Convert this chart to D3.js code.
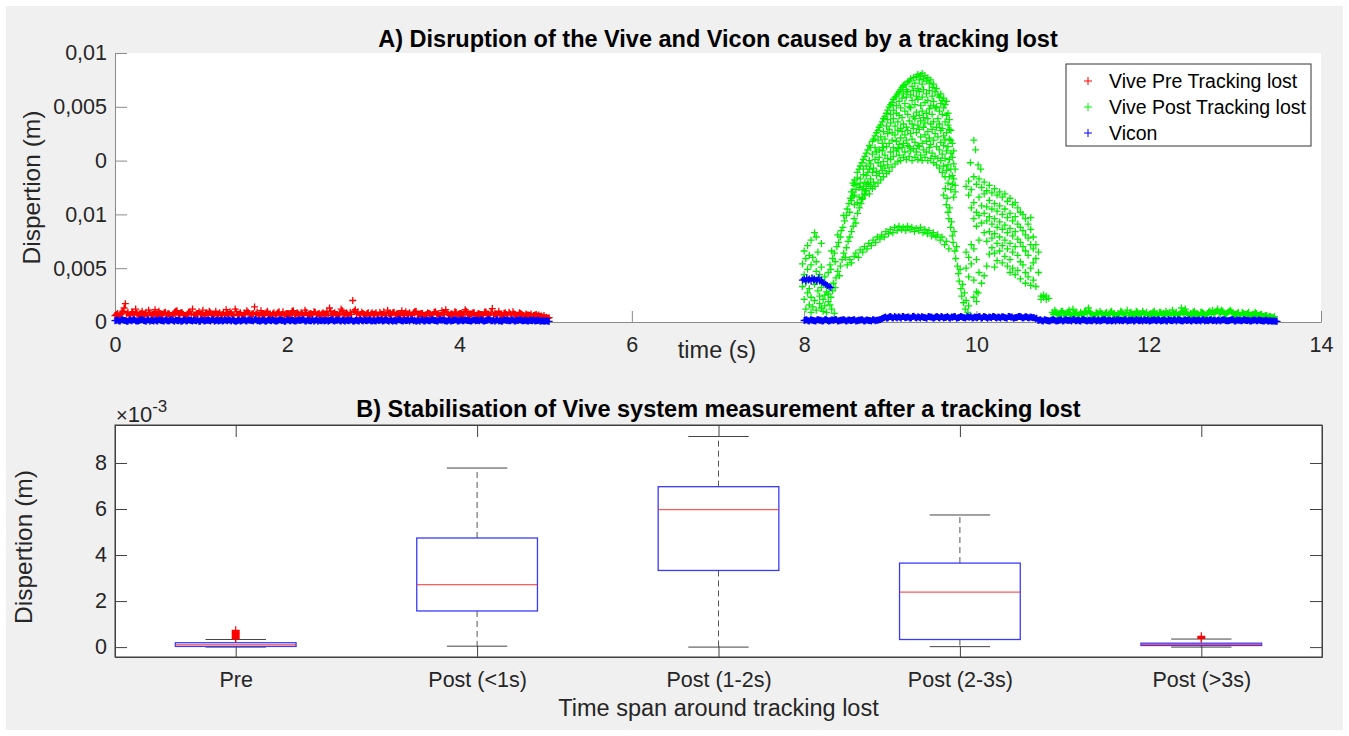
<!DOCTYPE html>
<html><head><meta charset="utf-8">
<script src="https://cdn.jsdelivr.net/npm/d3@7"></script>
<style>body{margin:0;background:#fff}svg{display:block}</style>
</head><body><svg id="c" width="1349" height="736"></svg>
<script>
// ===== DATA (dispersion values in 1e-3 m, time in s) =====
const topXTicks = [0,2,4,6,8,10,12,14];
const topYTicks = [0,5,10,15,20,25];
const topYLabels = ["0","0,005","0,01","0","0,005","0,01"];
const legendLabels = ["Vive Pre Tracking lost","Vive Post Tracking lost","Vicon"];

// Vive pre tracking lost: two interleaved sample sets, every 0.03 s
const vivePreStart = 0, vivePreStep = 0.03;
const vivePre = [
.6,.8,.65,1.0,1.7,.9,.7,.85,1.2,.65,.8,.55,.9,1.1,.65,.75,.6,1.0,.7,.85,
.65,.75,.55,.9,1.05,.7,.85,.6,.75,.95,1.2,.65,.8,.7,1.1,.75,.6,.85,.65,1.0,
.75,.65,.9,1.15,.7,.8,.6,.95,.75,.65,.85,1.05,.7,.75,1.4,.9,.65,.8,.6,1.0,
.7,.75,.65,.85,.6,.95,.75,.8,.7,1.05,.65,.75,.85,.6,.9,.7,.75,.95,.65,.8,
.75,.65,1.0,1.3,.75,.85,.7,.8,1.05,.65,.75,.9,2.0,1.15,.95,.7,.8,.65,.85,.75,
.7,.85,.65,.75,.95,.6,.8,.7,.9,.75,.65,1.05,.7,.75,.85,.6,.95,.7,.75,.8,
.65,.85,.75,.7,.95,.75,.6,.85,1.15,.7,.75,.65,.9,.75,.8,.65,1.0,.7,.75,.85,
.65,.75,.7,.9,.75,.65,1.25,.8,.7,.75,.6,.85,.65,.75,.95,.7,.65,.8,.6,.75,
.65,.75,.6,.7,.65,.55,.6,.45,.4];
const vivePreBStart = 0.015;
const vivePreB = [
.7,.55,.85,1.3,.75,.6,.95,.7,.8,.65,1.0,.75,.6,.85,.7,1.15,.65,.8,.7,.9,
.8,.6,.75,1.0,.65,.85,.7,.6,.9,.75,.65,.8,.95,.7,.6,.85,1.0,.7,.75,.6,
.85,.7,.6,.8,.95,.65,1.2,.7,.85,.6,.75,.9,.65,.8,.7,.6,1.05,.75,.85,.65,
.6,.85,.75,.95,.7,.65,.8,.6,1.0,.75,.85,.65,.7,1.1,.6,.8,.7,.9,.75,.65,
.85,.7,.6,.95,.8,.7,.65,1.2,.75,.85,.6,.7,1.0,.75,.65,.9,.7,.8,.6,.85,
.75,.65,.9,.7,.6,1.1,.75,.85,.65,.8,.7,.6,.95,.75,.65,.85,1.0,.7,.8,.6,
.7,.8,.65,.9,.75,.6,1.05,.7,.85,.65,.75,.95,.6,.8,.7,1.15,.65,.75,.85,.6,
.8,.7,.6,.95,.75,.85,.65,.7,1.0,.6,.8,.7,.9,.65,.75,.6,.85,.7,.55,.65,
.6,.5,.65,.55,.5,.45,.4,.35];

// Vicon pre: two interleaved sample sets every 0.03 s
const viconPreStart = 0, viconPreStep = 0.03;
const viconPre = [
.12,.18,.1,.2,.14,.08,.16,.22,.12,.1,.18,.14,.06,.2,.16,.1,.12,.24,.14,.1,
.16,.12,.2,.08,.14,.18,.1,.22,.12,.16,.1,.14,.2,.08,.18,.12,.16,.1,.22,.14,
.1,.18,.12,.16,.2,.1,.14,.08,.18,.12,.22,.1,.16,.14,.2,.12,.08,.18,.1,.16,
.14,.2,.1,.12,.18,.16,.08,.22,.12,.14,.1,.18,.16,.2,.1,.14,.12,.08,.2,.16,
.12,.1,.18,.14,.22,.1,.16,.12,.2,.08,.14,.18,.1,.16,.12,.24,.1,.14,.18,.12,
.16,.1,.14,.2,.12,.18,.08,.14,.16,.1,.22,.12,.18,.14,.1,.2,.16,.12,.08,.18,
.1,.16,.12,.2,.14,.1,.18,.22,.12,.16,.08,.14,.2,.1,.18,.12,.16,.14,.1,.2,
.14,.12,.18,.1,.16,.2,.12,.08,.22,.14,.1,.18,.16,.12,.2,.1,.14,.18,.12,.16,
.1,.14,.18,.12,.16,.1,.08,.12,.06];
const viconPreBStart = 0.015;
const viconPreB = [
.16,.1,.22,.14,.08,.18,.12,.2,.1,.16,.24,.12,.18,.08,.14,.2,.1,.16,.12,.22,
.1,.18,.14,.2,.12,.08,.16,.1,.22,.14,.18,.12,.06,.2,.1,.16,.14,.22,.08,.18,
.14,.1,.2,.12,.16,.22,.08,.14,.1,.18,.12,.2,.16,.1,.24,.14,.12,.18,.08,.2,
.12,.16,.1,.22,.14,.08,.18,.12,.2,.1,.16,.14,.22,.1,.18,.12,.2,.16,.08,.14,
.18,.14,.08,.2,.12,.16,.22,.1,.14,.18,.12,.2,.08,.16,.1,.14,.22,.12,.18,.1,
.12,.2,.16,.1,.18,.14,.22,.08,.12,.2,.16,.1,.14,.18,.22,.12,.08,.16,.2,.1,
.18,.12,.2,.14,.1,.22,.16,.12,.08,.18,.14,.2,.1,.16,.12,.22,.14,.1,.18,.12,
.16,.2,.1,.14,.22,.12,.18,.16,.1,.08,.2,.14,.12,.18,.1,.16,.2,.12,.14,.1,
.16,.12,.1,.14,.08,.12,.1,.06];

// Vicon post: two interleaved sample sets from t=8 every 0.03 s
const viconPostStart = 8, viconPostStep = 0.03;
const viconPost = [
.14,.2,.1,.18,.12,.22,.16,.1,.2,.14,.12,.18,.24,.1,.16,.2,.12,.18,.14,.22,.1,.16,.2,.12,.18,.14,.1,.22,.16,.2,.3,
.42,.36,.48,.4,.5,.38,.44,.52,.4,.46,.36,.5,.42,.48,.38,.44,.4,.52,.46,.36,
.48,.42,.5,.38,.44,.4,.46,.52,.36,.42,.48,.4,.5,.44,.38,.46,.42,.52,.4,.48,
.36,.44,.5,.42,.46,.38,.48,.4,.52,.44,.36,.42,.5,.46,.4,.48,.38,.44,.42,.34,
.18,.12,.2,.14,.1,.22,.16,.12,.18,.1,.2,.14,.16,.24,.12,.18,.1,.2,.14,.16,
.12,.2,.1,.18,.14,.22,.12,.16,.1,.2,.18,.12,.14,.22,.1,.16,.2,.12,.18,.14,
.1,.16,.22,.12,.18,.14,.2,.1,.16,.12,.24,.14,.18,.1,.2,.12,.16,.14,.22,.1,
.18,.12,.16,.2,.1,.14,.22,.12,.18,.16,.1,.2,.14,.12,.18,.22,.1,.16,.12,.2,
.14,.18,.1,.16,.12,.2,.14,.1,.16,.12,.08,.1,.06];
const viconPostBStart = 8.015;
const viconPostB = [
.18,.12,.22,.14,.1,.2,.16,.12,.24,.1,.18,.14,.2,.12,.16,.22,.1,.18,.14,.2,.12,.16,.22,.1,.18,.14,.2,.12,.16,.24,.36,
.46,.4,.52,.38,.44,.48,.36,.5,.42,.46,.4,.54,.38,.44,.5,.42,.36,.48,.44,.4,
.5,.38,.46,.42,.52,.36,.44,.48,.4,.5,.42,.38,.46,.52,.4,.44,.48,.36,.5,.42,
.46,.4,.52,.38,.44,.48,.42,.36,.5,.46,.4,.44,.52,.38,.48,.42,.46,.4,.3,
.14,.2,.1,.18,.12,.16,.22,.1,.14,.2,.12,.18,.16,.1,.22,.14,.12,.2,.18,.1,
.16,.12,.22,.14,.1,.18,.2,.12,.16,.14,.1,.22,.18,.12,.2,.14,.16,.1,.24,.12,
.18,.2,.14,.1,.16,.22,.12,.18,.14,.2,.1,.16,.12,.22,.18,.14,.1,.2,.16,.12,
.2,.14,.18,.1,.22,.16,.12,.2,.14,.1,.18,.16,.22,.12,.14,.2,.1,.18,.16,.12,
.18,.14,.1,.16,.2,.12,.14,.1,.16,.08,.12,.1,.08];

// Vicon jump right after tracking lost: [t, v]
const viconJump = [[7.98,3.9],[8.00,4.0],[8.02,3.8],[8.03,4.1],[8.05,3.9],[8.06,4.0],[8.08,3.8],[8.09,4.1],
[8.11,3.9],[8.12,4.0],[8.14,3.8],[8.15,3.9],[8.17,4.1],[8.18,3.8],[8.20,3.9],[8.21,3.7],[8.23,3.6],
[8.25,3.5],[8.27,3.4],[8.29,3.3],[8.31,3.2]];

// Vive post tracking lost, rows [t, v1, v2, ...]
const postEarly = [[7.98,5.4,3.3],[8.00,6.6,2.1,4.4],[8.02,1.2,5.9,3.7],[8.04,7.1,2.7,4.9],[8.06,1.6,6.2,3.1],
[8.08,0.9,5.3,2.3,7.6],[8.10,4.1,1.4,6.0],[8.12,8.3,3.5,2.0],[8.14,7.9,4.7,1.1,5.6],[8.16,2.9,3.9,6.5],
[8.18,1.7,2.4,4.4],[8.20,7.3,1.3,3.2,5.1],[8.22,2.1,1.0,3.7],[8.24,2.5,1.5,4.2],[8.26,0.9,2.8,3.4],
[8.28,1.9,2.6],[8.32,1.2],[8.35,0.8]];
const postStrandA = [[8.28,4.6],[8.30,5.3],[8.31,4.9],[8.32,6.6],[8.33,5.9],[8.35,6.4],[8.36,5.6],[8.38,7.0],
[8.39,8.1],[8.40,7.4],[8.42,7.9],[8.43,8.5],[8.45,8.8],[8.46,9.9],[8.47,9.4],[8.49,9.9],[8.50,10.5],[8.52,11.0],
[8.53,10.2],[8.54,11.5],[8.56,12.1],[8.58,12.7]];
const postStrandB = [[8.30,1.6],[8.31,2.3],[8.33,2.9],[8.34,3.6],[8.36,3.2],[8.37,4.1],[8.39,4.7],[8.41,4.3],
[8.42,5.2],[8.44,5.8],[8.46,6.4],[8.48,6.0],[8.49,6.9],[8.51,7.5],[8.53,7.9],[8.55,8.4],[8.57,8.9],[8.58,9.6],
[8.60,9.2],[8.62,10.1],[8.64,10.6],[8.66,11.0],[8.68,11.5],[8.70,11.9],[8.72,12.4],[8.75,12.8]];
const postBand = [[8.548,11.3,12.1],[8.566,11.7,12.9],[8.583,10.9,11.8,13.2],[8.602,12.3,12.8],
[8.617,11.1,13.4,13.9],[8.638,11.6,12.5,14.2],[8.651,12.9,13.3,14.5],[8.672,11.4,12.3,14.8],
[8.688,12.6,13.7,15.1,14.2],[8.705,11.8,13.0,15.4],[8.721,12.2,14.5,15.7,13.6],[8.739,12.9,13.9,16.0],
[8.757,11.9,14.2,15.0,16.4],[8.771,13.3,14.7,16.2,12.6],[8.792,12.4,15.6,16.8,13.9],[8.806,13.0,14.3,17.0],
[8.823,12.6,15.1,16.2,17.3],[8.84,13.6,14.0,15.8,17.6],[8.858,12.9,14.8,16.9,17.8],[8.872,13.8,15.3,16.0,18.1],
[8.889,13.2,14.5,17.2,18.3],[8.907,14.1,15.9,16.6,18.6],[8.921,13.5,14.9,17.7,18.9,16.2],[8.938,14.3,15.5,17.0,19.1],
[8.956,13.8,16.3,18.2,19.4],[8.97,14.6,15.2,17.5,18.8,19.7],[8.988,14.0,16.6,17.9,20.0],[9.004,15.1,15.8,18.5,19.3,20.2],
[9.021,14.4,16.9,17.6,20.4],[9.037,15.4,16.2,18.9,19.7,20.7],[9.055,14.7,17.4,18.2,20.9],[9.07,15.9,16.8,19.4,20.1,21.0],
[9.088,14.9,17.8,18.6,21.2,16.1],[9.103,15.5,16.5,19.2,20.5,21.4],[9.12,15.0,17.1,18.0,19.9,21.6],
[9.137,16.2,17.7,19.0,20.8,21.8],[9.153,15.3,16.6,18.4,21.2,22.0],[9.17,15.8,17.4,19.6,20.3,22.1],
[9.186,15.1,16.9,18.1,20.9,21.6],[9.203,16.4,17.8,19.3,21.4,22.3],[9.22,15.4,16.3,18.7,20.0,22.4],
[9.236,15.9,17.5,19.9,21.1,22.6],[9.253,15.0,17.0,18.4,20.6,21.9],[9.27,16.1,18.0,19.1,21.5,22.7],
[9.286,15.3,16.7,18.9,20.2,22.2],[9.303,15.8,17.6,19.5,21.0,22.8],[9.32,15.1,16.4,18.3,20.7,21.7,23.0],
[9.336,16.3,17.9,19.2,21.4,22.5],[9.353,15.5,17.2,18.7,20.1,22.9],[9.37,15.0,16.6,19.6,20.9,22.1,23.1],
[9.386,16.0,18.1,19.0,21.6,22.6],[9.403,15.3,17.4,18.5,20.4,22.9],[9.42,15.8,16.8,19.4,21.2,22.4],
[9.436,15.0,17.7,18.9,20.6,22.7],[9.453,16.2,17.1,19.8,21.5,22.2],[9.47,15.2,16.5,18.4,20.1,22.5],
[9.486,15.7,17.9,19.3,21.0,21.8],[9.503,14.8,16.9,18.6,20.5,22.1],[9.52,15.4,17.5,19.9,21.4],
[9.536,14.6,16.3,18.1,20.0,21.7],[9.553,15.2,17.2,18.9,21.1],[9.57,14.3,16.0,18.4,19.6,20.9],
[9.586,15.0,16.7,17.8,20.3,21.2],[9.603,13.9,15.6,18.0,19.3,20.6],[9.62,14.5,16.4,17.3,19.9,20.8],
[9.636,13.5,15.2,16.9,18.6,20.2],[9.653,14.1,15.9,17.6,19.2,20.5],[9.67,12.9,14.6,16.3,18.3,19.4],
[9.686,13.5,15.1,17.0,17.9,18.8],[9.703,12.3,14.2,15.7,16.9,17.8],[9.72,12.8,13.6,15.3,16.6],
[9.736,11.6,13.3,14.7,15.9],[9.753,12.1,12.7,14.2]];
const postInnerArc = [[8.50,5.3],[8.53,5.8],[8.55,5.5],[8.58,6.1],[8.60,6.4],[8.63,6.0],[8.65,6.7],[8.68,6.5],
[8.70,7.0],[8.73,6.8],[8.75,7.3],[8.78,7.1],[8.80,7.6],[8.83,7.4],[8.85,7.9],[8.88,7.7],[8.90,8.1],[8.93,7.9],
[8.95,8.4],[8.98,8.2],[9.00,8.6],[9.03,8.3],[9.05,8.8],[9.08,8.5],[9.10,8.9],[9.13,8.6],[9.15,8.8],[9.18,8.5],
[9.20,8.9],[9.23,8.6],[9.25,8.8],[9.28,8.4],[9.30,8.7],[9.33,8.5],[9.35,8.8],[9.38,8.3],[9.40,8.6],[9.43,8.2],
[9.45,8.5],[9.48,8.0],[9.50,8.3],[9.53,7.9],[9.55,8.1],[9.58,7.6],[9.60,7.9],[9.63,7.2],[9.65,7.5],[9.68,6.8]];
const postDip = [[9.62,11.8],[9.64,12.4],[9.65,10.9],[9.66,11.5],[9.67,10.2],[9.68,9.6],[9.69,10.6],[9.70,8.8],
[9.71,9.3],[9.72,8.0],[9.73,7.4],[9.74,8.4],[9.75,6.6],[9.76,5.9],[9.77,7.0],[9.78,5.2],[9.79,4.5],[9.80,3.8],
[9.81,4.9],[9.82,3.1],[9.83,2.4],[9.84,3.5],[9.85,1.8],[9.86,2.7],[9.87,1.2],[9.88,2.0],[9.90,0.9],[9.91,1.5],
[9.97,2.3],[10.00,1.9],[10.02,2.7]];
const postHump = [[9.93,14.8],[9.97,16.9],[9.99,16.0],[10.02,14.6],[10.05,14.2],
[9.88,12.6,6.5,5.0],[9.91,13.1,11.8,6.0,4.2],[9.94,12.3,10.6,7.2,5.4],[9.97,13.5,11.1,9.6,6.8,3.9],
[10.00,12.8,10.2,8.9,5.8,2.8],[10.03,13.3,11.6,9.9,7.6,4.6],[10.06,12.5,10.8,9.2,3.6],
[10.09,13.0,11.9,10.1,8.3,4.3],[10.12,12.2,10.7,9.4,7.5,5.2],[10.15,12.7,11.3,9.8,8.4,6.3],
[10.18,12.0,10.5,9.1,7.8,6.9],[10.21,12.4,11.0,9.6,8.2,6.4,5.1],[10.24,11.8,10.3,8.8,7.3,5.7],
[10.27,12.1,10.8,9.3,7.9,6.6],[10.30,11.6,10.0,8.6,7.1,5.5],[10.33,11.9,10.5,9.0,7.6,6.1],
[10.36,11.2,9.7,8.3,6.8,5.2],[10.39,11.5,10.1,8.7,7.3,5.8,4.6],[10.42,10.9,9.4,8.0,6.5,5.0],
[10.45,11.1,9.8,8.4,7.0,4.4],[10.48,10.6,9.1,7.7,6.2,4.8],[10.51,10.2,8.8,7.4,5.6,4.0],
[10.54,10.0,8.5,7.0,5.3],[10.57,9.6,8.1,6.6,4.6,3.6],[10.60,9.1,7.8,6.2,4.2],[10.63,9.7,8.6,7.2,5.0,3.4],
[10.66,7.9,6.8,5.5,3.9],[10.69,7.2,5.9,3.3],[10.72,6.5,4.6],[10.75,2.4,2.1],[10.78,2.3,2.5],
[10.81,2.1,2.4],[10.84,2.2]];
// Vive post tail: two interleaved sample sets every 0.03 s
const postTailStart = 10.88, postTailStep = 0.03;
const postTail = [
.9,1.1,.7,.8,1.0,.6,.9,.7,1.2,.8,.6,.9,.7,1.0,1.3,.8,.6,.9,.7,.8,
.6,.9,.7,1.0,.8,.6,.7,.9,.6,1.1,.8,.7,.6,.9,.8,1.0,.7,.6,.8,.9,
.7,.6,.9,.8,1.0,.7,.6,.8,.9,.7,1.3,.8,.9,.6,.7,1.0,.8,.6,.9,.7,
.8,1.0,1.1,.9,1.2,.8,1.0,.7,.9,1.1,.8,.7,.9,.6,.8,.7,.9,.6,.7,.8,
.6,.7,.5,.6,.5,.4,.5];
const postTailBStart = 10.895;
const postTailB = [
.7,.9,.6,1.0,.8,.7,1.1,.6,.8,.9,.7,.6,1.0,.8,.9,.7,.6,.8,1.0,.7,
.8,.6,.9,.7,.6,.8,1.0,.7,.8,.6,.9,.7,1.0,.6,.7,.8,.9,.7,.6,1.0,
.8,.9,.7,.6,.8,.9,1.1,.7,.6,.8,.9,1.2,.7,.8,.9,.6,.7,.9,.8,.6,
.9,.7,.8,1.0,.9,1.1,.7,.8,1.0,.9,.7,.8,.6,.9,.7,.8,.6,.7,.9,.6,
.7,.5,.6,.4,.5,.4];

// Box plot (1e-3 m)
const boxCats = ["Pre","Post (<1s)","Post (1-2s)","Post (2-3s)","Post (>3s)"];
const whiskLow = [0.0, 0.04, 0.0, 0.02, 0.0];
const q1 = [0.03, 1.57, 3.33, 0.33, 0.07];
const med = [0.10, 2.71, 5.97, 2.39, 0.12];
const q3 = [0.19, 4.74, 6.97, 3.65, 0.17];
const whiskHigh = [0.33, 7.78, 9.15, 5.74, 0.35];
const outliers = [[0.36,0.39,0.42,0.45,0.48,0.51,0.54,0.58,0.63,0.68,0.73],[],[],[],[0.38,0.41,0.44,0.47]];
const botYTicks = [0,2,4,6,8];

// ===== DRAW =====
const FONT = '"Liberation Sans", Arial, Helvetica, sans-serif';
const TXT = "#262626";
const W = 1349, H = 736;
const svg = d3.select("#c").attr("font-family", FONT);
svg.append("rect").attr("width", W).attr("height", H).attr("fill", "#fff");
svg.append("rect").attr("x", 6).attr("y", 6).attr("width", W - 12).attr("height", H - 12).attr("fill", "#f0f0f0");

const rows = r => r.flatMap(([t, ...vs]) => vs.map(v => [t, v]));
const seq = (start, step, vals) => vals.map((v, i) => [start + i * step, v]);
function plusPath(pts, x, y, s) {
  return pts.map(([a, b]) => { const px = x(a), py = y(b); return `M${px - s},${py}h${2 * s}M${px},${py - s}v${2 * s}`; }).join("");
}
function styleAxis(g, col, fs) {
  g.attr("font-family", null).attr("font-size", null);
  g.selectAll("path,line").attr("stroke", col).attr("stroke-width", 1);
  g.selectAll("text").attr("font-size", fs || 21).attr("fill", TXT).attr("font-family", FONT);
}

// --- Chart A ---
const A = {l: 115, r: 1321, t: 53, b: 322};
const xA = d3.scaleLinear().domain([0, 14]).range([A.l, A.r]);
const yA = d3.scaleLinear().domain([0, 25]).range([A.b, A.t]);
svg.append("rect").attr("x", A.l).attr("y", A.t).attr("width", A.r - A.l).attr("height", A.b - A.t).attr("fill", "#fff");
const axA = "#8a8a8a";
const gyA = svg.append("g").attr("transform", `translate(${A.l},0)`)
  .call(d3.axisLeft(yA).tickValues(topYTicks).tickFormat((d, i) => topYLabels[i]).tickSize(-12).tickSizeOuter(0).tickPadding(8));
styleAxis(gyA, axA, 21.5);
const gxA = svg.append("g").attr("transform", `translate(0,${A.b})`)
  .call(d3.axisBottom(xA).tickValues(topXTicks).tickFormat(d => d).tickSize(-11).tickSizeOuter(0).tickPadding(15));
styleAxis(gxA, axA, 21.5);

const pre = [...seq(vivePreStart, vivePreStep, vivePre), ...seq(vivePreBStart, vivePreStep, vivePreB)];
const post = [...rows(postEarly), ...postStrandA, ...postStrandB, ...rows(postBand), ...postInnerArc, ...postDip,
  ...rows(postHump), ...seq(postTailStart, postTailStep, postTail), ...seq(postTailBStart, postTailStep, postTailB)];
const vicon = [...seq(viconPreStart, viconPreStep, viconPre), ...seq(viconPreBStart, viconPreStep, viconPreB),
  ...seq(viconPostStart, viconPostStep, viconPost), ...seq(viconPostBStart, viconPostStep, viconPostB), ...viconJump];
const colors = ["#ff0000", "#00f000", "#0000ff"];
[pre, post, vicon].forEach((pts, i) => {
  svg.append("path").attr("d", plusPath(pts, xA, yA, 3.5)).attr("stroke", colors[i]).attr("stroke-width", 1.3).attr("fill", "none");
});

svg.append("text").attr("x", (A.l + A.r) / 2).attr("y", 47).attr("text-anchor", "middle")
  .attr("font-size", 23.5).attr("font-weight", "bold").attr("fill", "#000")
  .text("A) Disruption of the Vive and Vicon caused by a tracking lost");
svg.append("text").attr("x", 717).attr("y", 358).attr("text-anchor", "middle").attr("font-size", 23.5).attr("fill", TXT).text("time (s)");
svg.append("text").attr("transform", `translate(40,${(A.t + A.b) / 2}) rotate(-90)`).attr("text-anchor", "middle")
  .attr("font-size", 24.5).attr("fill", TXT).text("Dispertion (m)");

// legend
const lg = svg.append("g");
lg.append("rect").attr("x", 1066).attr("y", 64).attr("width", 245).attr("height", 82).attr("fill", "#fff").attr("stroke", "#333").attr("stroke-width", 1);
const legY = d3.scalePoint().domain(legendLabels).range([81, 133]);
legendLabels.forEach((lab, i) => {
  const yy = legY(lab);
  lg.append("path").attr("d", `M${1084},${yy}h8M${1088},${yy - 4}v8`).attr("stroke", colors[i]).attr("stroke-width", 1);
  lg.append("text").attr("x", 1109).attr("y", yy + 7).attr("font-size", 19.5).attr("fill", "#000").text(lab);
});

// --- Chart B ---
const B = {l: 115, r: 1322, t: 425, b: 657};
const xB = d3.scaleLinear().domain([0.5, 5.5]).range([B.l, B.r]);
const yB = d3.scaleLinear().domain([-0.43, 9.65]).range([B.b, B.t]);
svg.append("rect").attr("x", B.l).attr("y", B.t).attr("width", B.r - B.l).attr("height", B.b - B.t).attr("fill", "#fff");
const axB = "#404040";
const catPos = boxCats.map((c, i) => i + 1);
const gyB = svg.append("g").attr("transform", `translate(${B.l},0)`)
  .call(d3.axisLeft(yB).tickValues(botYTicks).tickSize(-12).tickSizeOuter(0).tickPadding(8));
styleAxis(gyB, axB, 21.5);
const gyB2 = svg.append("g").attr("transform", `translate(${B.r},0)`)
  .call(d3.axisRight(yB).tickValues(botYTicks).tickFormat("").tickSize(-12).tickSizeOuter(0));
styleAxis(gyB2, axB);
const gxB = svg.append("g").attr("transform", `translate(0,${B.b})`)
  .call(d3.axisBottom(xB).tickValues(catPos).tickFormat((d, i) => boxCats[i]).tickSize(-11).tickSizeOuter(0).tickPadding(15));
styleAxis(gxB, axB, 21.5);
const gxB2 = svg.append("g").attr("transform", `translate(0,${B.t})`)
  .call(d3.axisTop(xB).tickValues(catPos).tickFormat("").tickSize(-12).tickSizeOuter(0));
styleAxis(gxB2, axB);
svg.append("rect").attr("x", B.l).attr("y", B.t).attr("width", B.r - B.l).attr("height", B.b - B.t)
  .attr("fill", "none").attr("stroke", axB).attr("stroke-width", 1);

const bw = 0.25, cw = 0.125;
const gb = svg.append("g");
boxCats.forEach((c, i) => {
  const p = i + 1;
  gb.append("line").attr("x1", xB(p)).attr("x2", xB(p)).attr("y1", yB(q3[i])).attr("y2", yB(whiskHigh[i]))
    .attr("stroke", "#555").attr("stroke-dasharray", "6,4");
  gb.append("line").attr("x1", xB(p)).attr("x2", xB(p)).attr("y1", yB(q1[i])).attr("y2", yB(whiskLow[i]))
    .attr("stroke", "#555").attr("stroke-dasharray", "6,4");
  [whiskHigh[i], whiskLow[i]].forEach(v => gb.append("line").attr("x1", xB(p - cw)).attr("x2", xB(p + cw))
    .attr("y1", yB(v)).attr("y2", yB(v)).attr("stroke", "#444"));
  gb.append("rect").attr("x", xB(p - bw)).attr("y", yB(q3[i])).attr("width", xB(p + bw) - xB(p - bw))
    .attr("height", yB(q1[i]) - yB(q3[i])).attr("fill", "none").attr("stroke", "#3a3aff").attr("stroke-width", 1.3);
  gb.append("line").attr("x1", xB(p - bw)).attr("x2", xB(p + bw)).attr("y1", yB(med[i])).attr("y2", yB(med[i]))
    .attr("stroke", "#ff3030").attr("stroke-width", 1);
  if (outliers[i].length)
    gb.append("path").attr("d", plusPath(outliers[i].map(v => [p, v]), xB, yB, 4)).attr("stroke", "#ff0000").attr("stroke-width", 1.2).attr("fill", "none");
});

svg.append("text").attr("x", (B.l + B.r) / 2).attr("y", 417).attr("text-anchor", "middle")
  .attr("font-size", 23.5).attr("font-weight", "bold").attr("fill", "#000")
  .text("B) Stabilisation of Vive system measurement after a tracking lost");
svg.append("text").attr("x", (B.l + B.r) / 2).attr("y", 716).attr("text-anchor", "middle").attr("font-size", 23.5).attr("fill", TXT)
  .text("Time span around tracking lost");
svg.append("text").attr("transform", `translate(32,${(B.t + B.b) / 2 + 6}) rotate(-90)`).attr("text-anchor", "middle")
  .attr("font-size", 24.5).attr("fill", TXT).text("Dispertion (m)");
const ex = svg.append("text").attr("x", 116).attr("y", 422).attr("font-size", 22).attr("fill", TXT);
ex.append("tspan").attr("font-size", 20).text("×");
ex.append("tspan").text("10");
ex.append("tspan").attr("font-size", 17).attr("dy", -10).text("-3");
</script></body></html>
